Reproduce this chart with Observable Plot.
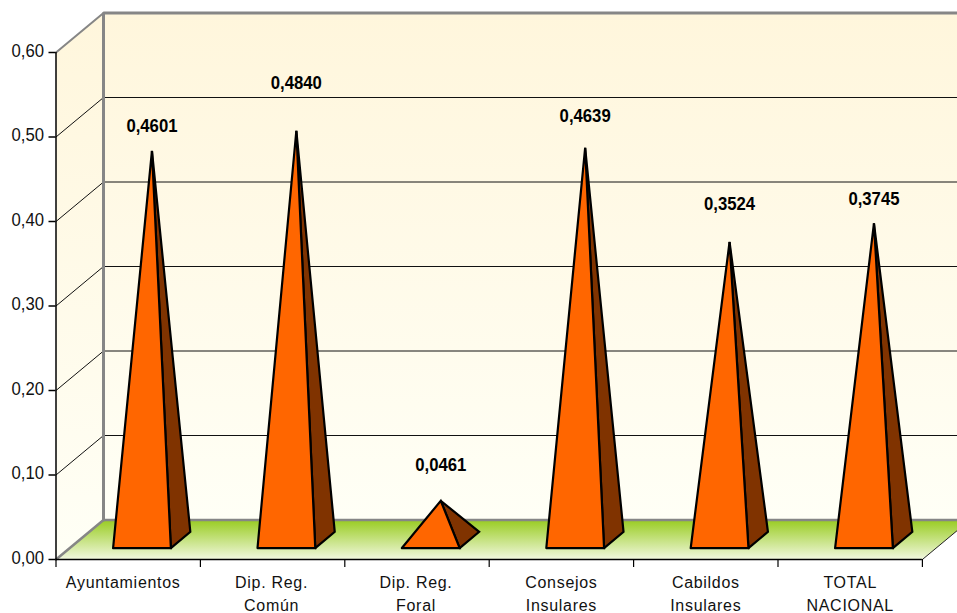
<!DOCTYPE html>
<html><head><meta charset="utf-8">
<script src="https://cdn.jsdelivr.net/npm/d3@7"></script>
<script src="https://cdn.jsdelivr.net/npm/@observablehq/plot@0.6"></script>
<style>
html,body{margin:0;padding:0;background:#fff;overflow:hidden}
svg{display:block}
.cat text{letter-spacing:.7px}
</style></head><body><div id="chart"></div>
<script>
const categories = ["Ayuntamientos","Dip. Reg.\nComún","Dip. Reg.\nForal","Consejos\nInsulares","Cabildos\nInsulares","TOTAL\nNACIONAL"];
const values = [0.4601,0.4840,0.0461,0.4639,0.3524,0.3745];
const yTicks = [0,0.1,0.2,0.3,0.4,0.5,0.6];
const labelGaps = [25,48,36,32,38,24];
const catNudges = [-5,-1,-1,0,0,0];

const W=957,H=613,mL=55.5,mB=54;
const catPx=144.4,valPx=845;
const depthX=47.5/catPx, depthY=39.5/valPx;
const P=(u,v,d)=>({x:u+d*depthX,y:v+d*depthY});
const poly=(id,pts)=>[...pts,pts[0]].map(p=>({...p,id}));
const n=categories.length, yMax=0.6;

const leftWall=poly("l",[P(0,0,0),P(0,0,1),P(0,yMax,1),P(0,yMax,0)]);
const backWall=poly("b",[P(0,0,1),P(n,0,1),P(n,yMax,1),P(0,yMax,1)]);
const floor=poly("f",[P(0,0,0),P(n,0,0),P(n,0,1),P(0,0,1)]);
const grid=yTicks.slice(1,-1).flatMap(v=>[P(0,v,0),P(0,v,1),P(n,v,1)].map(p=>({...p,id:v})));

const hw=0.2,d0=0.29,d1=0.70,dc=0.5;
const front=values.flatMap((v,i)=>poly(i,[P(i+.5-hw,0,d0),P(i+.5+hw,0,d0),P(i+.5,v,dc)]));
const right=values.flatMap((v,i)=>poly(i,[P(i+.5+hw,0,d0),P(i+.5+hw,0,d1),P(i+.5,v,dc)]));
const apexes=values.map((v,i)=>({...P(i+.5,v,dc),t:v.toFixed(4).replace(".",",")}));

const defs=()=>{
  const s=d3.create("svg:defs");
  const g=(id,stops)=>{
    const lg=s.append("linearGradient").attr("id",id).attr("x1",0).attr("y1",0).attr("x2",0).attr("y2",1);
    stops.forEach(([o,c])=>lg.append("stop").attr("offset",o).attr("stop-color",c));
  };
  g("wall",[[0,"#FFF6DC"],[1,"#FFFFF6"]]);
  g("floor",[[0,"#99CC22"],[1,"#F2F8E0"]]);
  return s.node();
};

const plot=Plot.plot({
  width:W,height:H,marginLeft:mL,marginBottom:mB,marginTop:0,marginRight:0,
  x:{domain:[0,(W-mL)/catPx],axis:null},
  y:{domain:[0,(H-mB)/valPx],axis:null},
  style:{fontFamily:"Liberation Sans, Arial, sans-serif",background:"#fff",color:"#111"},
  marks:[
    defs,
    Plot.line(backWall,{x:"x",y:"y",z:"id",fill:"url(#wall)",stroke:"none"}),
    Plot.line(leftWall,{x:"x",y:"y",z:"id",fill:"url(#wall)",stroke:"none"}),
    Plot.line(floor,{x:"x",y:"y",z:"id",fill:"url(#floor)",stroke:"none"}),
    Plot.line(grid,{x:"x",y:"y",z:"id",stroke:"#111",strokeWidth:1}),
    Plot.line([P(0,0,1),P(0,yMax,1),P(n,yMax,1)],{x:"x",y:"y",stroke:"#868686",strokeWidth:3,strokeLinejoin:"miter"}),
    Plot.line([P(0,yMax,0),P(0,yMax,1)],{x:"x",y:"y",stroke:"#868686",strokeWidth:2}),
    Plot.line([P(0,0,0),P(0,0,1),P(n,0,1)],{x:"x",y:"y",stroke:"#868686",strokeWidth:2.5}),
    Plot.line([P(n,0,0),P(n,0,1)],{x:"x",y:"y",stroke:"#222",strokeWidth:1}),
    Plot.ruleX([0],{y1:0,y2:yMax,stroke:"#000",strokeWidth:1.5}),
    Plot.ruleY([0],{x1:0,x2:n,stroke:"#000",strokeWidth:1.5}),
    Plot.axisY({ticks:yTicks,tickFormat:v=>v.toFixed(2).replace(".",","),tickSize:7,tickPadding:5,fontSize:19,label:null,stroke:"#000",strokeWidth:1.5}),
    Plot.axisX({ticks:d3.range(n+1),tickFormat:()=>"",tickSize:8,label:null,stroke:"#000",strokeWidth:1.2}),
    Plot.line(right,{x:"x",y:"y",z:"id",fill:"#803300",stroke:"#000",strokeWidth:2.2,strokeLinejoin:"miter",strokeMiterlimit:3}),
    Plot.line(front,{x:"x",y:"y",z:"id",fill:"#FF6600",stroke:"#000",strokeWidth:2.2,strokeLinejoin:"miter",strokeMiterlimit:3}),
    Plot.text(apexes,{x:"x",y:"y",text:"t",fontSize:19,fontWeight:"bold",fill:"#000",lineAnchor:"middle",className:"val"}),
    Plot.text(categories.map((c,i)=>({c,i:i+.5})),{x:"i",y:0,text:"c",dy:13,lineAnchor:"top",lineHeight:1.4,fontSize:16,fill:"#111",className:"cat"})
  ]
});

// Narrow the letters, as in the reference, and apply the hand-placed label offsets.
const adjust=(sel,sx,dx,dy)=>sel.each(function(_,k){
  const e=d3.select(this), t=e.attr("transform")||"";
  e.attr("transform",`translate(${dx(k)},${dy(k)}) ${t} scale(${sx},1)`);
});
adjust(d3.select(plot).selectAll('[aria-label="y-axis tick label"] text'),.88,()=>0,()=>-2);
adjust(d3.select(plot).selectAll('.val text'),.88,()=>0,k=>-labelGaps[k]);
adjust(d3.select(plot).selectAll('.cat text'),1,k=>catNudges[k],()=>0);
document.getElementById("chart").appendChild(plot);
</script></body></html>
